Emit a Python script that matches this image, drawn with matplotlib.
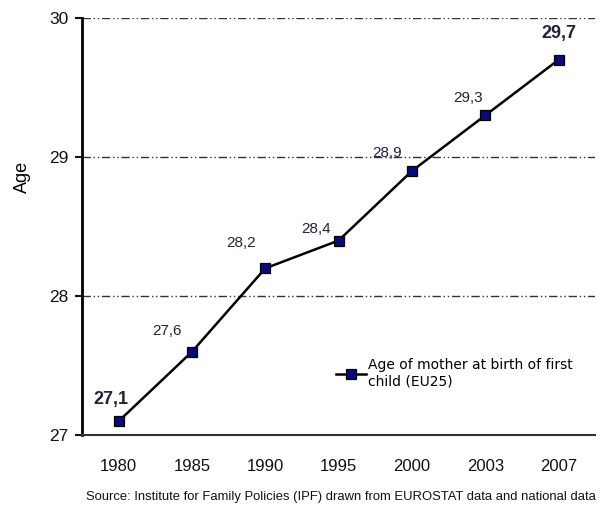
import numpy as np
import matplotlib.pyplot as plt

years = ["1980", "1985", "1990", "1995", "2000", "2003", "2007"]
age = [27.1, 27.6, 28.2, 28.4, 28.9, 29.3, 29.7]
age_labels = ["27,1", "27,6", "28,2", "28,4", "28,9", "29,3", "29,7"]
y_ticks = [27, 28, 29, 30]

plt.rcParams['font.family'] = ['Liberation Sans', 'DejaVu Sans']

fig = plt.figure(figsize=(6.03, 5.18), dpi=100)
ax = fig.add_axes([0.136, 0.160, 0.851, 0.805])

x = np.arange(len(years))
ax.plot(x, age, color='black', lw=1.8, marker='s', markersize=7.2,
        markerfacecolor='#0a0a78', markeredgecolor='black', markeredgewidth=0.9,
        label='Age of mother at birth of first\nchild (EU25)', zorder=3)

# value labels (pixel offsets from each point); first and last are bold
offsets = [(-8, 22), (-25, 21), (-24, 25), (-23, 12), (-25, 18), (-17, 17), (0, 26)]
for i, (v, s) in enumerate(zip(age, age_labels)):
    big = i in (0, len(age) - 1)
    ax.annotate(s, (x[i], v), xytext=offsets[i], textcoords='offset pixels',
                ha='center', va='center', color='#22223a',
                fontsize=13 if big else 11,
                fontweight='bold' if big else 'normal')

ax.set_xlim(-0.5, len(years) - 0.5)
ax.set_ylim(27, 30)
ax.set_xticks(x)
ax.set_xticklabels(years, fontsize=12)
ax.set_yticks(y_ticks)
ax.set_yticklabels([str(t) for t in y_ticks], fontsize=12.5)
ax.tick_params(axis='x', length=0, pad=17, colors='#111111')
ax.tick_params(axis='y', length=5, width=1.5, direction='out', pad=5, colors='#111111')

ax.grid(axis='y', color='#333333', lw=1, dashes=(6, 2, 1, 2, 1, 2))
ax.set_axisbelow(True)
for side in ('top', 'right'):
    ax.spines[side].set_visible(False)
ax.spines['left'].set_linewidth(2)
ax.spines['left'].set_color('black')
ax.spines['bottom'].set_linewidth(1.5)
ax.spines['bottom'].set_color('#333333')

ax.set_ylabel('Age', fontsize=13)
ax.yaxis.set_label_coords(-0.10, 0.62)

ax.legend(loc='upper left', bbox_to_anchor=(0.47, 0.215), frameon=False,
          handlelength=2.2, handletextpad=0.15,
          prop={'family': ['DejaVu Sans'], 'size': 10})

fig.text(0.143, 0.034, 'Source: Institute for Family Policies (IPF) drawn from EUROSTAT data and national data',
         fontsize=9.4, color='#111111')

fig.savefig('out.png', dpi=100)
